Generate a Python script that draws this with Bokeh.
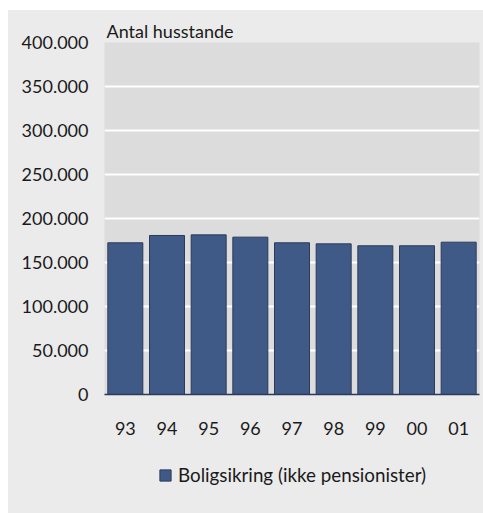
from bokeh.plotting import figure
from bokeh.layouts import column
from bokeh.models import ColumnDataSource, FixedTicker, Legend, LegendItem
from bokeh.embed import file_html
from bokeh.resources import INLINE

years = ["93", "94", "95", "96", "97", "98", "99", "00", "01"]
households = [172400, 180700, 181400, 178800, 172400, 171200, 169000, 169000, 173100]
series_name = "Boligsikring (ikke pensionister)"
y_ticks = [0, 50000, 100000, 150000, 200000, 250000, 300000, 350000, 400000]
y_tick_labels = ["0", "50.000", "100.000", "150.000", "200.000", "250.000", "300.000", "350.000", "400.000"]

FONT = "Lato"
OUTER = "#ebebeb"
INNER = "#dcdcdc"
BAR = "#405a88"
EDGE = "#2b3b5a"

src = ColumnDataSource(dict(year=years, value=households))

p = figure(width=475, height=440, x_range=years, y_range=(0, 400000),
           output_backend="svg", toolbar_location=None,
           min_border_left=96, min_border_right=4, min_border_top=32, min_border_bottom=56)
p.title.text = "Antal husstande"
p.title.text_font = FONT
p.title.text_font_size = "18px"
p.title.text_font_style = "normal"
p.title.text_color = "#1a1a1a"
p.title.align = "left"
p.title.offset = 2
p.title.standoff = 2

p.background_fill_color = INNER
p.border_fill_color = OUTER
p.outline_line_color = None

r = p.vbar(x="year", top="value", width=0.84, source=src,
           fill_color=BAR, line_color=EDGE, line_width=1)

p.xgrid.grid_line_color = None
p.ygrid.grid_line_color = "white"
p.ygrid.grid_line_width = 2
p.ygrid.ticker = FixedTicker(ticks=y_ticks)

p.yaxis.ticker = FixedTicker(ticks=y_ticks)
p.yaxis.major_label_overrides = {t: l for t, l in zip(y_ticks, y_tick_labels)}
p.yaxis.axis_line_color = None
p.yaxis.major_tick_line_color = None
p.yaxis.minor_tick_line_color = None
p.yaxis.major_tick_out = 0
p.yaxis.major_label_standoff = 16
p.yaxis.major_label_text_font = FONT
p.yaxis.major_label_text_font_size = "18px"
p.yaxis.major_label_text_color = "#1a1a1a"

p.xaxis.axis_line_color = EDGE
p.xaxis.axis_line_width = 1.5
p.xaxis.major_tick_line_color = None
p.xaxis.minor_tick_line_color = None
p.xaxis.major_tick_out = 0
p.xaxis.major_label_standoff = 27
p.xaxis.major_label_text_font = FONT
p.xaxis.major_label_text_font_size = "18px"
p.xaxis.major_label_text_color = "#1a1a1a"

# legend strip (same series, hidden renderer, only its legend entry is shown)
q = figure(width=475, height=63, x_range=years, y_range=(0, 1),
           output_backend="svg", toolbar_location=None,
           x_axis_type=None, y_axis_type=None,
           min_border_left=0, min_border_right=0, min_border_top=0, min_border_bottom=0)
q.background_fill_color = OUTER
q.border_fill_color = OUTER
q.outline_line_color = None
q.xgrid.visible = False
q.ygrid.visible = False
rl = q.vbar(x="year", top="value", width=0.84, source=src,
            fill_color=BAR, line_color=EDGE, line_width=1, visible=False)

legend = Legend(items=[LegendItem(label=series_name, renderers=[rl])],
                location=(54, 27), orientation="horizontal")
legend.padding = 0
legend.margin = 0
legend.border_line_color = None
legend.background_fill_alpha = 0
legend.inactive_fill_alpha = 0
legend.glyph_width = 14
legend.glyph_height = 14
legend.label_height = 14
legend.label_standoff = 6
legend.label_text_font = FONT
legend.label_text_font_size = "18.8px"
legend.label_text_color = "#1a1a1a"
q.add_layout(legend, "center")

layout = column(p, q, spacing=0, margin=(10, 0, 0, 8),
                styles={"background-color": OUTER})
open("out.html", "w").write(file_html(layout, INLINE))
